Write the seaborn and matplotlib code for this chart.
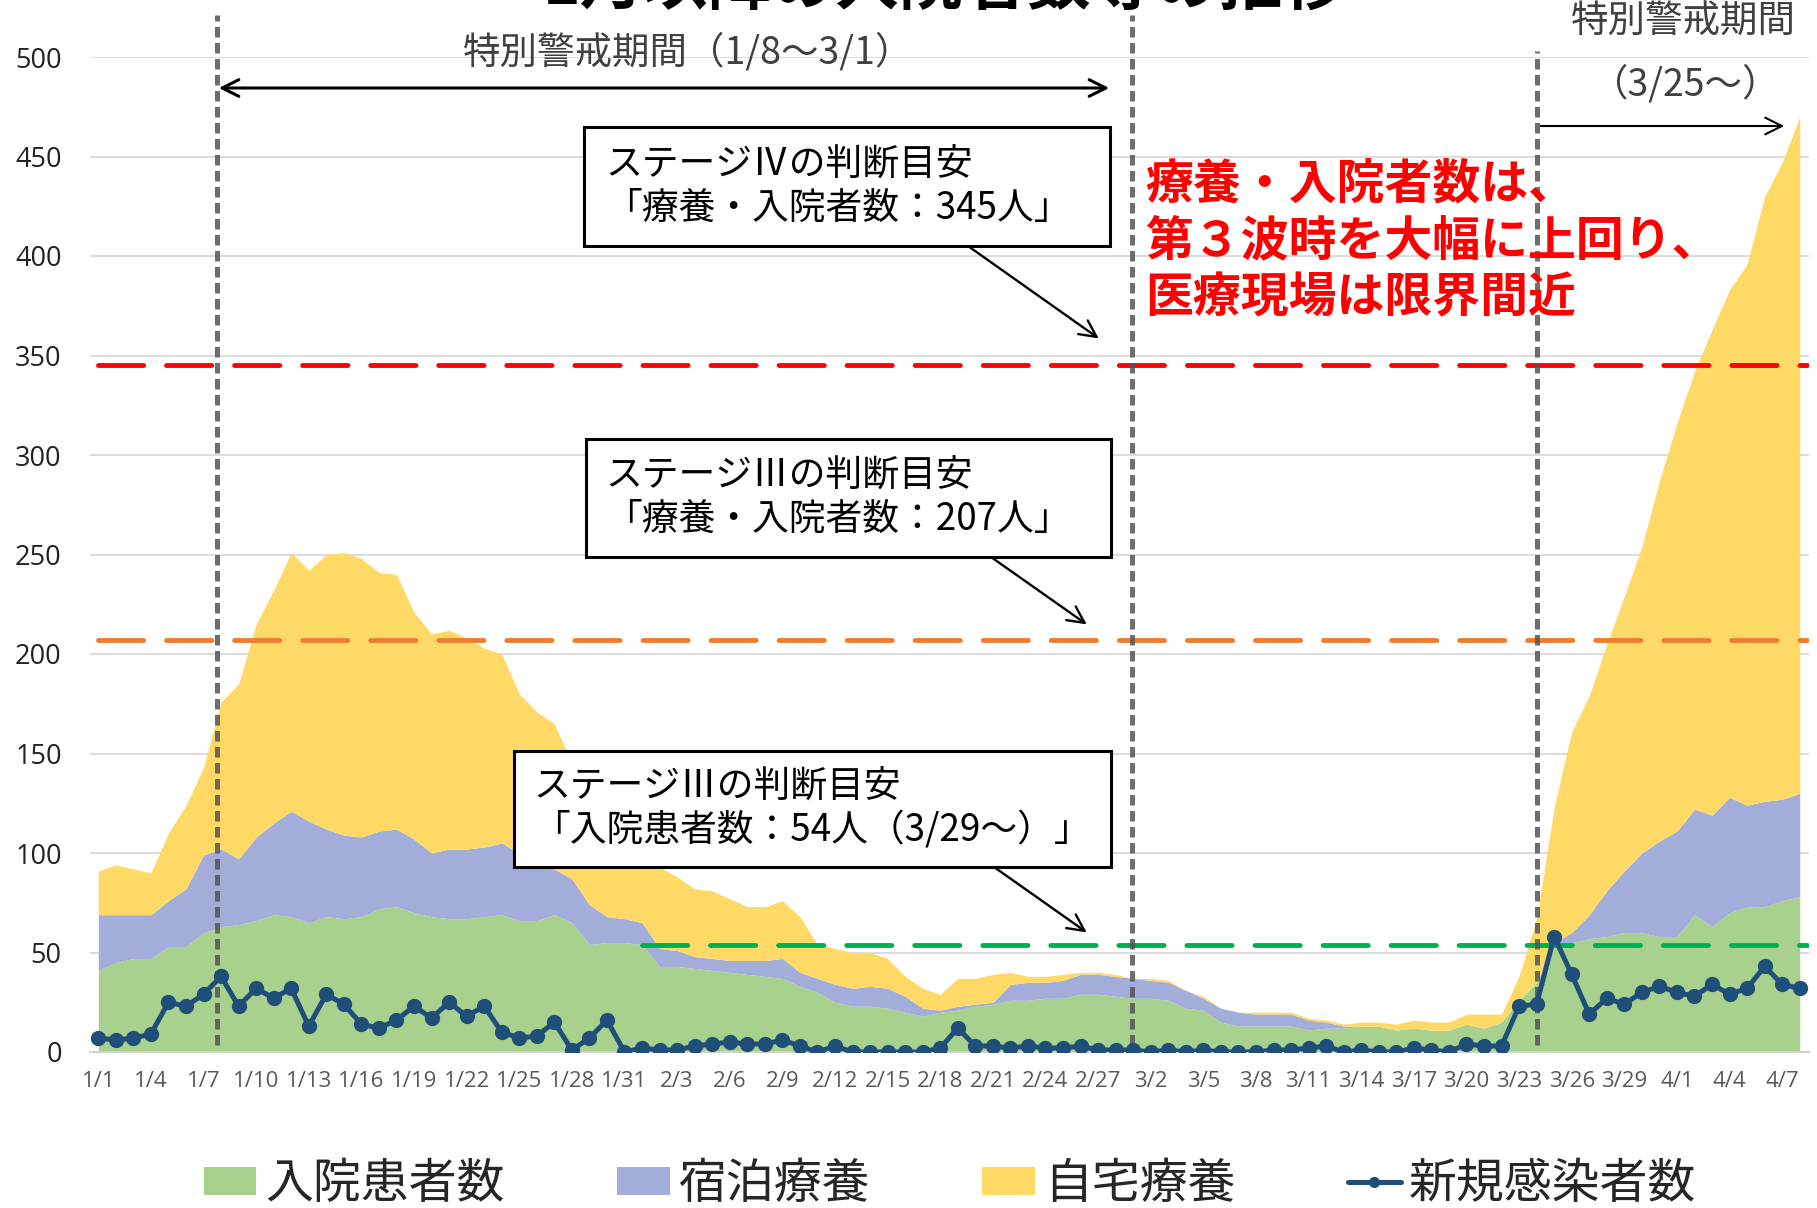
import numpy as np
import pandas as pd
import matplotlib
matplotlib.use("Agg")
import matplotlib.pyplot as plt
import seaborn as sns
from matplotlib.patches import Rectangle, FancyArrowPatch, Patch
from matplotlib.lines import Line2D

# ---------------- data ----------------
dates = pd.date_range("2021-01-01", "2021-04-08")
date_labels = [f"{d.month}/{d.day}" for d in dates]

hospitalized = [41, 45, 47, 47, 53, 53, 60, 63, 64, 66,
                69, 68, 65, 68, 67, 68, 72, 73, 70, 68,
                67, 67, 68, 69, 66, 66, 69, 65, 54, 55,
                55, 54, 43, 43, 42, 41, 40, 39, 38, 37,
                33, 30, 25, 23, 23, 22, 20, 18, 20, 21,
                23, 24, 26, 26, 27, 27, 29, 29, 28, 27,
                27, 26, 22, 21, 15, 13, 13, 13, 13, 11,
                12, 12, 13, 13, 11, 12, 11, 11, 14, 12,
                15, 26, 35, 53, 55, 57, 58, 60, 60, 58,
                58, 69, 63, 70, 73, 73, 76, 78]
hotel = [28, 24, 22, 22, 23, 29, 39, 39, 33, 42,
         46, 53, 51, 44, 42, 40, 39, 39, 37, 32,
         35, 35, 35, 36, 34, 30, 23, 22, 20, 13,
         12, 11, 9, 8, 6, 6, 6, 7, 8, 10,
         7, 7, 9, 9, 10, 10, 8, 4, 1, 2,
         1, 1, 8, 9, 8, 9, 10, 10, 10, 10,
         9, 9, 9, 6, 7, 7, 6, 6, 6, 5,
         3, 1, 0, 0, 0, 0, 0, 0, 0, 0,
         0, 0, 0, 2, 5, 12, 23, 31, 40, 48,
         53, 53, 56, 58, 51, 53, 51, 52]
home = [22, 25, 23, 21, 34, 42, 44, 74, 88, 107,
        117, 130, 126, 138, 142, 140, 130, 128, 114, 110,
        110, 106, 100, 95, 80, 75, 73, 58, 54, 44,
        35, 32, 41, 37, 34, 34, 31, 27, 27, 29,
        28, 17, 18, 18, 17, 15, 10, 10, 8, 14,
        13, 14, 6, 3, 3, 3, 1, 1, 1, 0,
        1, 1, 0, 1, 0, 0, 1, 1, 1, 1,
        1, 1, 2, 2, 3, 4, 4, 4, 5, 7,
        4, 12, 32, 68, 101, 110, 124, 138, 154, 181,
        205, 220, 244, 255, 272, 304, 320, 340]
new_cases = [7, 6, 7, 9, 25, 23, 29, 38, 23, 32,
             27, 32, 13, 29, 24, 14, 12, 16, 23, 17,
             25, 18, 23, 10, 7, 8, 15, 1, 7, 16,
             0, 2, 1, 1, 3, 4, 5, 4, 4, 6,
             3, 0, 3, 0, 0, 0, 0, 0, 2, 12,
             3, 3, 2, 3, 2, 2, 3, 1, 1, 1,
             0, 1, 0, 1, 0, 0, 0, 1, 1, 2,
             3, 0, 1, 0, 0, 2, 1, 0, 4, 3,
             3, 23, 24, 58, 39, 19, 27, 24, 30, 33,
             30, 28, 34, 29, 32, 43, 34, 32]

series_names = ["入院患者数", "宿泊療養", "自宅療養", "新規感染者数"]
stage4_level = 345
stage3_level = 207
stage3_hosp_level = 54
stage3_hosp_start = "2/1"
# period boundary marker positions (category index units)
period_lines = [6.75, 58.95, 82.0]

title_text = "1月以降の入院者数等の推移"
period1_text = "特別警戒期間（1/8～3/1）"
period2_text1 = "特別警戒期間"
period2_text2 = "（3/25～）"
box1_text = "ステージⅣの判断目安\n「療養・入院者数：345人」"
box2_text = "ステージⅢの判断目安\n「療養・入院者数：207人」"
box3_text = "ステージⅢの判断目安\n「入院患者数：54人（3/29～）」"
red_text = "療養・入院者数は、\n第３波時を大幅に上回り、\n医療現場は限界間近"

# ---------------- style ----------------
C_GREEN = "#A9D18E"
C_BLUE = "#A3ADD9"
C_YELLOW = "#FFD966"
C_LINE = "#1F4E79"

sns.set_theme(style="white")
plt.rcParams["font.family"] = ["Noto Sans CJK JP", "DejaVu Sans"]

W, H = 1817, 1208
fig = plt.figure(figsize=(W / 100, H / 100), dpi=100)
fig.patch.set_facecolor("white")


def F(x, y):
    return (x / W, 1 - y / H)


ax_left, ax_right, ax_top, ax_bottom = 89.5, 1808.5, 57, 1052
ax = fig.add_axes([ax_left / W, 1 - ax_bottom / H,
                   (ax_right - ax_left) / W, (ax_bottom - ax_top) / H])
ax.set_facecolor("white")

n = len(dates)
xs = np.arange(n)
ax.set_xlim(-0.5, n - 0.5)
ax.set_ylim(0, 500)

# grid
for yv in range(50, 501, 50):
    ax.axhline(yv, color="#d9d9d9", lw=1.3, zorder=0)

ax.stackplot(xs, hospitalized, hotel, home,
             colors=[C_GREEN, C_BLUE, C_YELLOW], lw=0, zorder=1)

# threshold lines
ax.plot([0, n - 0.6], [stage4_level] * 2, color="#FF0000", lw=3.5,
        linestyle=(0, (9.3, 4.7)), dash_capstyle="round", zorder=3)
ax.plot([0, n - 0.6], [stage3_level] * 2, color="#ED7D31", lw=3.5,
        linestyle=(0, (9.3, 4.7)), dash_capstyle="round", zorder=3)
gs = date_labels.index(stage3_hosp_start)
ax.plot([gs, n - 0.6], [stage3_hosp_level] * 2, color="#00B050", lw=3.5,
        linestyle=(0, (9.3, 4.7)), dash_capstyle="round", zorder=3)

# period vertical lines
y_top1 = (ax_bottom - 15) / (ax_bottom - ax_top) * 500
y_top3 = (ax_bottom - 51) / (ax_bottom - ax_top) * 500
y_bot = 3.5
for i, xv in enumerate(period_lines):
    yt = y_top3 if i == 2 else y_top1
    ax.plot([xv, xv], [y_bot, yt], color="#555555", alpha=0.85, lw=3.6,
            linestyle=(0, (2.1, 1.1)), clip_on=False, zorder=4)

# new cases line
df = pd.DataFrame({"x": xs, "v": new_cases})
sns.lineplot(data=df, x="x", y="v", ax=ax, color=C_LINE, lw=3.6,
             marker="o", markersize=11, markeredgewidth=0, zorder=5,
             legend=False)

# axes styling
for s in ["top", "right", "left"]:
    ax.spines[s].set_visible(False)
ax.spines["bottom"].set_color("#d0d0d0")
ax.spines["bottom"].set_linewidth(1.5)
ax.set_xlabel("")
ax.set_ylabel("")
ax.set_yticks(range(0, 501, 50))
ax.tick_params(axis="y", length=0, pad=20, labelsize=19.5, labelcolor="#222222")
for t in ax.get_yticklabels():
    t.set_fontfamily(["Open Sans", "DejaVu Sans"])

ax.set_xticks(np.arange(-0.5, n, 3))
ax.set_xticklabels([])
ax.tick_params(axis="x", which="major", length=7, width=1.5, color="#d0d0d0")
ax.set_xticks(xs[::3], minor=True)
ax.set_xticklabels(date_labels[::3], minor=True)
ax.tick_params(axis="x", which="minor", length=0, pad=14, labelsize=16,
               labelcolor="#595959")
for t in ax.get_xticklabels(minor=True):
    t.set_fontfamily(["Open Sans", "DejaVu Sans"])

# ---------------- annotations ----------------
fig.text(*F(945, 4), title_text, ha="center", va="baseline", fontsize=46,
         fontweight="bold", color="black")

fig.text(*F(688, 53), period1_text, ha="center", va="center", fontsize=27,
         color="#404040")
fig.text(*F(1683, 22), period2_text1, ha="center", va="center", fontsize=27,
         color="#404040")
fig.text(*F(1686, 85), period2_text2, ha="center", va="center", fontsize=27,
         color="#404040")

fig.add_artist(FancyArrowPatch(F(216, 88), F(1112, 88), transform=fig.transFigure,
                               arrowstyle="<->", mutation_scale=30, lw=2.2,
                               color="black"))
fig.add_artist(FancyArrowPatch(F(1538, 126), F(1787, 126), transform=fig.transFigure,
                               arrowstyle="->", mutation_scale=30, lw=1.5,
                               color="black"))

boxes = [
    (584, 127, 1110, 246, box1_text, 605, (968, 246), (1101, 340)),
    (586, 439, 1111, 557, box2_text, 605, (991, 557), (1089, 626)),
    (514, 751, 1111, 867, box3_text, 533, (994, 867), (1089, 934)),
]
for x0, y0, x1, y1, txt, tx, a0, a1 in boxes:
    fig.add_artist(Rectangle(F(x0, y1), (x1 - x0) / W, (y1 - y0) / H,
                             transform=fig.transFigure, facecolor="white",
                             edgecolor="black", lw=2.2, zorder=6))
    fig.text(*F(tx, (y0 + y1) / 2), txt, ha="left", va="center", fontsize=26.5,
             color="black", linespacing=1.15, zorder=7)
    fig.add_artist(FancyArrowPatch(F(*a0), F(*a1), transform=fig.transFigure,
                                   arrowstyle="->", mutation_scale=30, lw=1.7,
                                   color="black", zorder=6))

fig.text(*F(1145, 241), red_text, ha="left", va="center", fontsize=34.5,
         fontweight="bold", color="#FF0000", linespacing=1.2, zorder=7)

# ---------------- legend ----------------
handles = [Patch(facecolor=C_GREEN, edgecolor="none"),
           Patch(facecolor=C_BLUE, edgecolor="none"),
           Patch(facecolor=C_YELLOW, edgecolor="none"),
           Line2D([0], [0], color=C_LINE, lw=3.6, marker="o", markersize=7)]
fig.legend(handles, series_names, loc="center", bbox_to_anchor=F(950, 1184),
           ncol=4, frameon=False, fontsize=34.5, handlelength=1.1,
           handleheight=0.52, handletextpad=0.18, columnspacing=2.35)

fig.savefig("out.png", dpi=100, facecolor="white")
